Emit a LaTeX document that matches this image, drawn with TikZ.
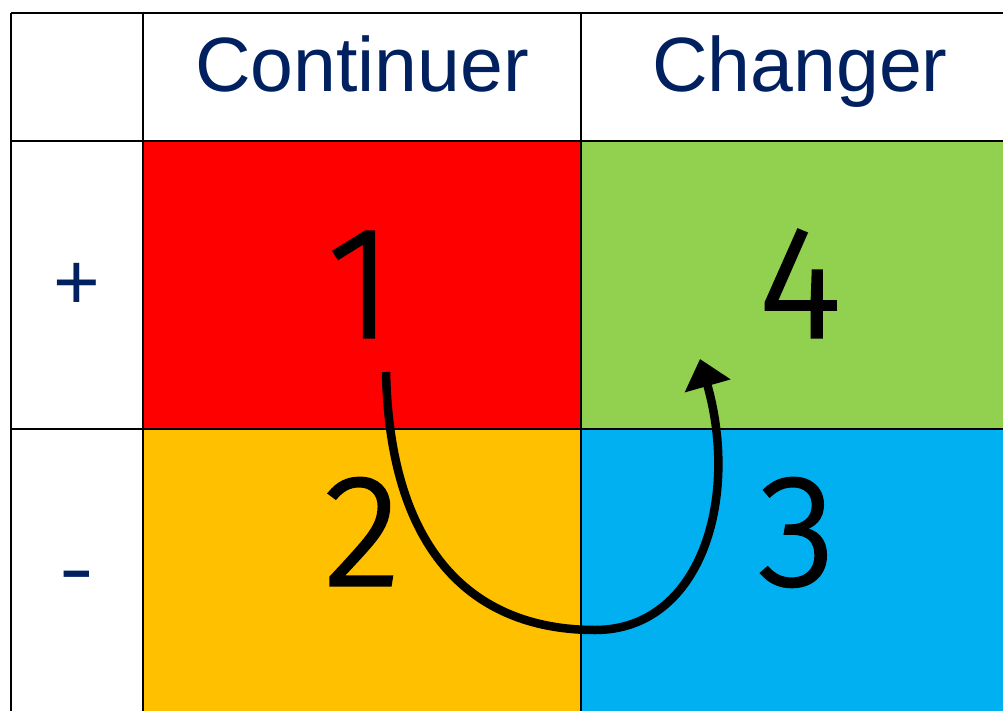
\documentclass[tikz,border=0pt]{standalone}
\usepackage{fontspec}
\setmainfont{Liberation Sans}
\newfontfamily\digitfont[FakeBold=2]{Fira Sans Light}
\usetikzlibrary{arrows.meta}
\definecolor{cred}{HTML}{FF0000}
\definecolor{cgreen}{HTML}{92D050}
\definecolor{cyellow}{HTML}{FFC000}
\definecolor{cblue}{HTML}{00B0F0}
\definecolor{navy}{HTML}{002060}
\tikzset{
  gridline/.style={draw=black, line width=2pt},
  head/.style={text=navy, font=\fontsize{77}{80}\selectfont, inner sep=0pt, anchor=base},
  sign/.style={text=navy, font=\fontsize{80}{80}\selectfont, inner sep=0pt},
  digit/.style={text=black, font=\digitfont\fontsize{158}{158}\selectfont, inner sep=0pt, anchor=base},
  flow/.style={line width=8.5pt, -{Triangle[length=28pt,width=46pt]}}
}
\begin{document}
\begin{tikzpicture}[x=1pt,y=-1pt]
\useasboundingbox (0,0) rectangle (1003,711);
\clip (0,0) rectangle (1003,711);
% cells
\fill[white] (0,0) rectangle (1003,711);
\fill[cred] (143,141) rectangle (581,429);
\fill[cgreen] (581,141) rectangle (1010,429);
\fill[cyellow] (143,429) rectangle (581,720);
\fill[cblue] (581,429) rectangle (1010,720);
% grid lines
\draw[gridline] (11,13) -- (1010,13);
\draw[gridline] (11,141) -- (1010,141);
\draw[gridline] (11,429) -- (1010,429);
\draw[gridline] (11,13) -- (11,720);
\draw[gridline] (143,13) -- (143,720);
\draw[gridline] (581,13) -- (581,720);
% headers
\node[head] (hc) at (362,92) {Continuer};
\node[head] (hch) at (800,92) {Changer};
\node[sign] (plus) at (77,286) {+};
\node[sign, xscale=1.3] (minus) at (77,583) {-};
% digits
\node[digit] (d1) at (360,337) {1};
\node[digit] (d4) at (800,337) {4};
\node[digit] (d2) at (362,585) {2};
\node[digit] (d3) at (797,585) {3};
% arrow
\coordinate (s) at (386,372);
\coordinate (b) at (595,630);
\coordinate (e) at (700,359);
\draw[flow] (s) .. controls (390,560) and (480,630) .. (b)
  .. controls (700,630) and (740,500) .. (e);
\end{tikzpicture}
\end{document}
